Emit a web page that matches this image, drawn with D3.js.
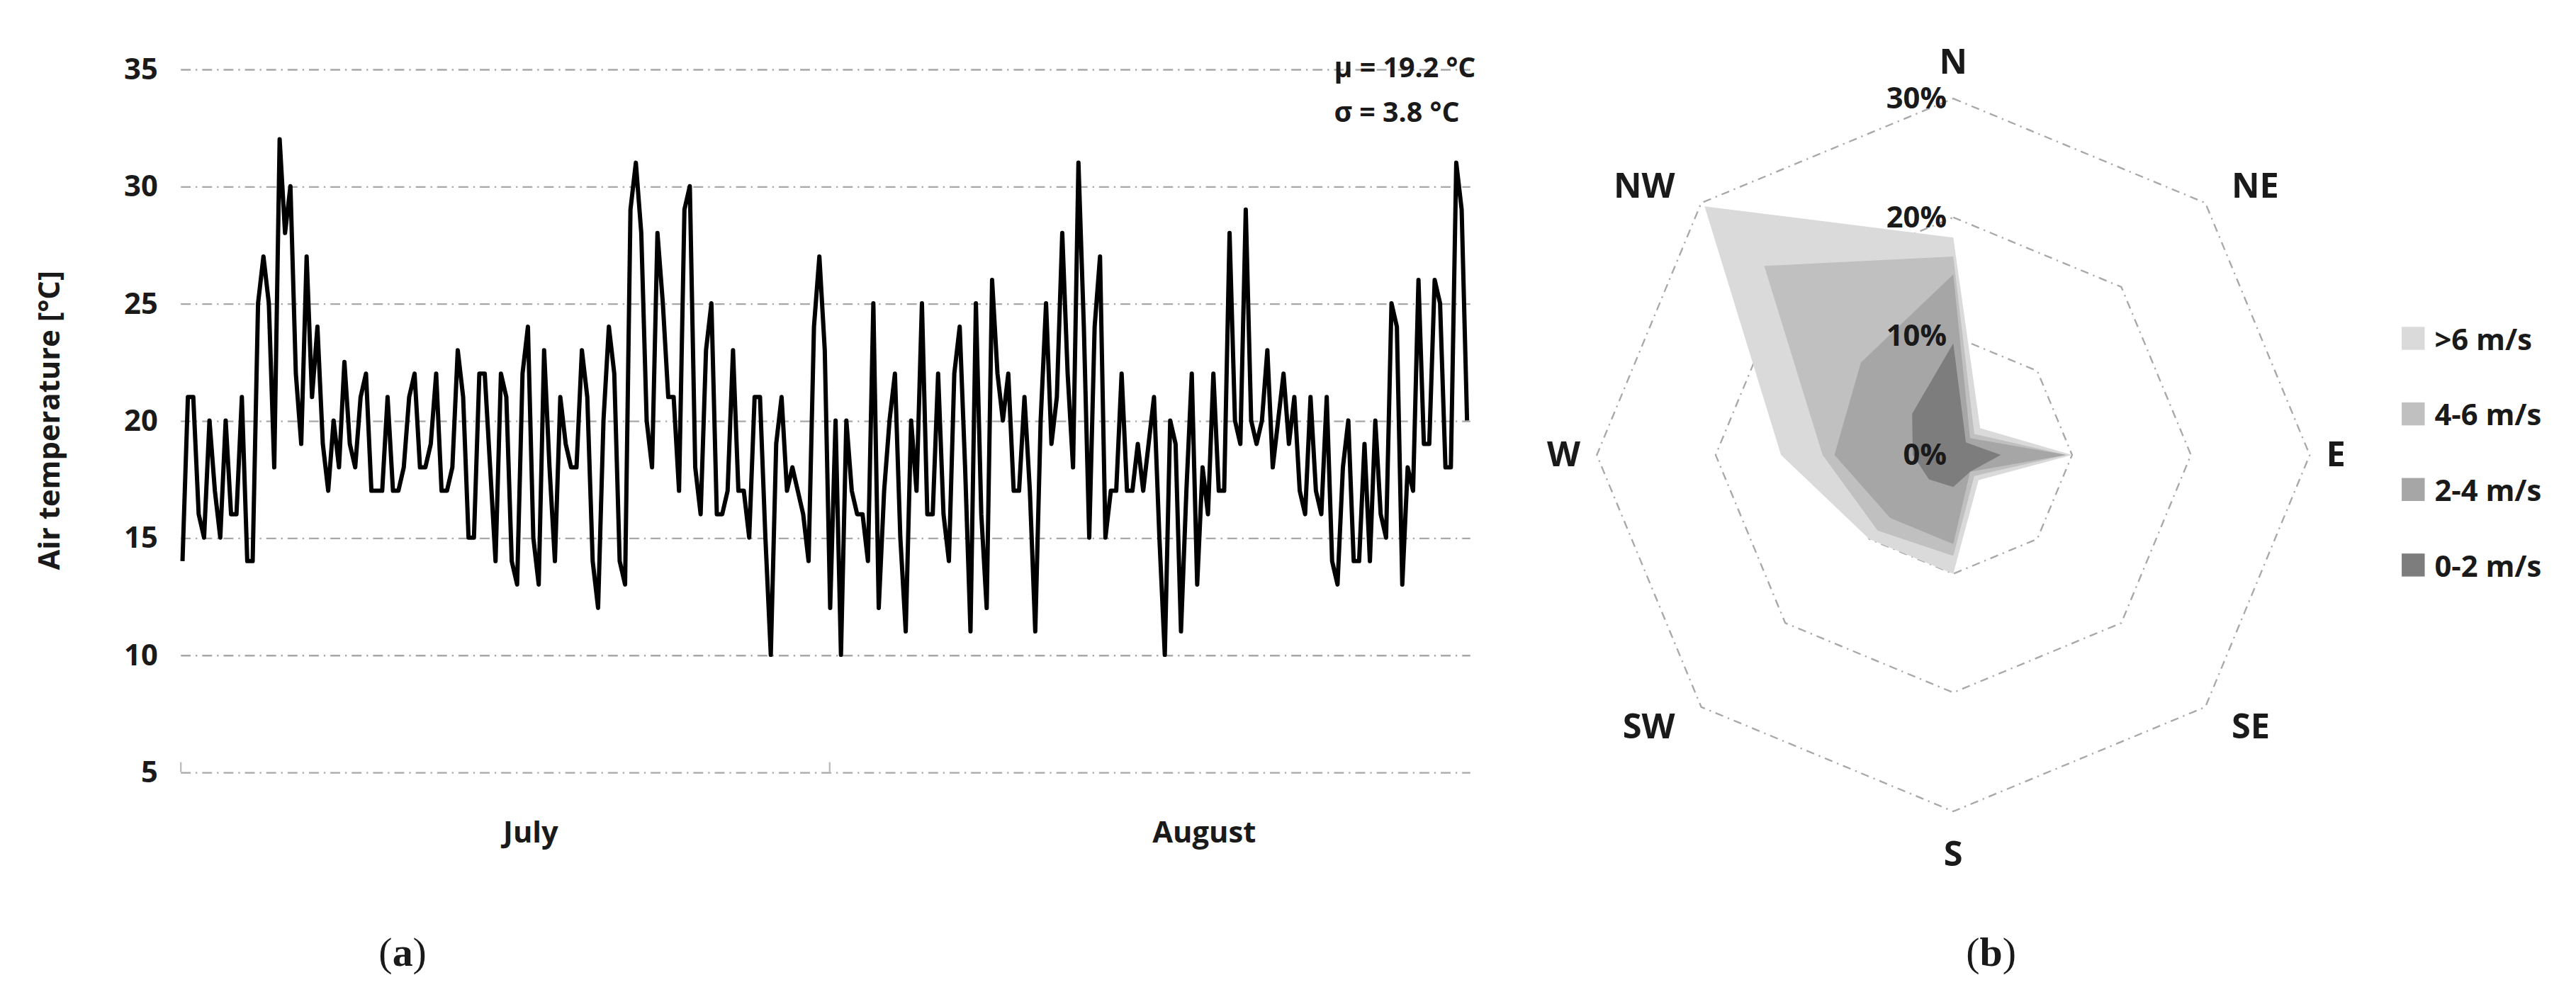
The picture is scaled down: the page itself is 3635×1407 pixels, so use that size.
<!DOCTYPE html>
<html>
<head>
<meta charset="utf-8">
<script src="https://cdn.jsdelivr.net/npm/d3@7"></script>
<style>
  body { margin: 0; background: #fff; }
  text { font-family: "Open Sans", sans-serif; font-weight: 700; fill: #1a1a1a; }
</style>
</head>
<body>
<svg id="chart" width="3635" height="1407" viewBox="0 0 1568 607"></svg>
<script>
// panel (a): air temperature, read roughly twice per day off the picture
const tempJuly = [14,21,21,16,15,20,17,15,20,16,16,21,14,14,25,27,25,18,32,28,30,22,19,27,21,24,19,17,20,18,22.5,19,18,21,22,17,17,17,21,17,17,18,21,22,18,18,19,22,17,17,18,23,21,15,15,22,22,18,14,22,21,14,13,22,24,15,13,23,18,14,21,19,18,18,23,21,14,12,20,24,22,14,13,29,31,28,20,18,28,25,21,21,17,29,30,18,16,23,25,16,16,17,23,17,17,15,21,21,15,10,19,21,17,18,17,16,14,24,27,23,12]
const tempAugust = [20,10,20,17,16,16,14,25,12,17,20,22,15,11,20,17,25,16,16,22,16,14,22,24,18,11,25,16,12,26,22,20,22,17,17,21,17,11,20,25,19,21,28,22,18,31,24,15,24,27,15,17,17,22,17,17,19,17,19,21,15,10,20,19,11,17,22,13,18,16,22,17,17,28,20,19,29,20,19,20,23,18,20,22,19,21,17,16,21,17,16,21,14,13,18,20,14,14,19,14,20,16,15,25,24,13,18,17,26,19,19,26,25,18,18,31,29,20]
const temps = tempJuly.concat(tempAugust)
const tempTicks = [5,10,15,20,25,30,35]
const months = ['July', 'August']

// panel (b): wind rose, % frequency per direction and speed class
const directions = ['N','NE','E','SE','S','SW','W','NW']
const speedClasses = ['>6 m/s','4-6 m/s','2-4 m/s','0-2 m/s']
const windOver6 = [18.3,3.2,10,3,10,10,14.5,29.6]
const wind4to6 = [16.7,2.5,9.5,2.5,8.5,9,11,22.5]
const wind2to4 = [15.2,2,9.5,2,7.5,7.5,10,11]
const wind0to2 = [9.4,1.5,4,2,2.7,2.9,3.4,4.9]
const ringTicks = [0,10,20,30]
const classColors = ['#dadada','#c0c0c0','#a6a6a6','#7d7d7d']

const svg = d3.select('#chart')
const grid = '#a8a8a8'

// ---------- (a) ----------
const x = d3.scaleLinear().domain([0, temps.length - 1]).range([111, 893])
const y = d3.scaleLinear().domain([5, 35]).range([470, 42])

const yAxis = svg.append('g')
    .attr('transform', 'translate(110,0)')
    .call(d3.axisLeft(y).tickValues(tempTicks).tickSize(-785).tickPadding(14))
yAxis.select('.domain').remove()
yAxis.selectAll('.tick line')
    .attr('stroke', grid).attr('stroke-width', 1).attr('stroke-dasharray', '6,3,1,3')
yAxis.selectAll('.tick text').attr('font-size', 18).style('font-family', '"Open Sans", sans-serif').style('font-weight', 700)

svg.append('g').selectAll('line')
    .data([110, 505])
    .join('line')
    .attr('x1', d => d).attr('x2', d => d)
    .attr('y1', 464).attr('y2', 470)
    .attr('stroke', '#bbb')

const monthX = d3.scalePoint().domain(months).range([323, 733])
svg.append('g').selectAll('text')
    .data(months)
    .join('text')
    .attr('x', d => monthX(d)).attr('y', 513)
    .attr('text-anchor', 'middle').attr('font-size', 18)
    .text(d => d)

svg.append('text')
    .attr('transform', 'translate(36,256) rotate(-90)')
    .attr('text-anchor', 'middle').attr('font-size', 18)
    .text('Air temperature [°C]')

svg.append('path')
    .datum(temps)
    .attr('fill', 'none').attr('stroke', '#000').attr('stroke-width', 2.6)
    .attr('stroke-linejoin', 'round')
    .attr('d', d3.line().x((d, i) => x(i)).y(d => y(d)))

svg.append('text').attr('x', 812).attr('y', 47).attr('font-size', 17).text('μ = 19.2 °C')
svg.append('text').attr('x', 812).attr('y', 74).attr('font-size', 17).text('σ = 3.8 °C')

svg.append('text').attr('x', 245).attr('y', 588).attr('text-anchor', 'middle')
    .style('font-family', '"Liberation Serif", serif').style('font-weight', 400).attr('font-size', 25)
    .html('(<tspan font-weight="700">a</tspan>)')

// ---------- (b) ----------
const cx = 1189, cy = 277
const r = d3.scaleLinear().domain([0, 30]).range([0, 217])
const ang = d3.scalePoint().domain(directions).range([0, 315])
const pt = (dir, v) => {
    const a = ang(dir) * Math.PI / 180
    return [cx + r(v) * Math.sin(a), cy - r(v) * Math.cos(a)]
}

const rose = svg.append('g')
rose.selectAll('polygon.ring')
    .data(ringTicks.slice(1))
    .join('polygon')
    .attr('class', 'ring')
    .attr('points', v => directions.map(d => pt(d, v).join(',')).join(' '))
    .attr('fill', 'none').attr('stroke', grid).attr('stroke-width', 1).attr('stroke-dasharray', '5,3,1,3')

const series = [windOver6, wind4to6, wind2to4, wind0to2]
rose.selectAll('polygon.area')
    .data(series)
    .join('polygon')
    .attr('class', 'area')
    .attr('points', vals => directions.map((d, i) => pt(d, vals[i]).join(',')).join(' '))
    .attr('fill', (d, i) => classColors[i])

rose.selectAll('text.ringlab')
    .data(ringTicks)
    .join('text')
    .attr('class', 'ringlab')
    .attr('x', cx - 4).attr('y', v => cy - r(v) + 6)
    .attr('text-anchor', 'end').attr('font-size', 18)
    .text(v => v + '%')

const labOffset = {N: [0, -22], NE: [16, -10], E: [10, 0], SE: [16, 12], S: [0, 26], SW: [-16, 12], W: [-10, 0], NW: [-16, -10]}
rose.selectAll('text.dir')
    .data(directions)
    .join('text')
    .attr('class', 'dir')
    .attr('x', d => pt(d, 30)[0] + labOffset[d][0])
    .attr('y', d => pt(d, 30)[1] + labOffset[d][1] + 7)
    .attr('text-anchor', d => d === 'N' || d === 'S' ? 'middle' : (d.includes('E') ? 'start' : 'end'))
    .attr('font-size', 21)
    .text(d => d)

const leg = svg.append('g').selectAll('g')
    .data(speedClasses)
    .join('g')
    .attr('transform', (d, i) => `translate(1462,${207 + i * 46})`)
leg.append('rect').attr('x', 0).attr('y', -8).attr('width', 14).attr('height', 14)
    .attr('fill', (d, i) => classColors[i])
leg.append('text').attr('x', 20).attr('y', 6).attr('font-size', 18).text(d => d)

svg.append('text').attr('x', 1212).attr('y', 588).attr('text-anchor', 'middle')
    .style('font-family', '"Liberation Serif", serif').style('font-weight', 400).attr('font-size', 25)
    .html('(<tspan font-weight="700">b</tspan>)')
</script>
</body>
</html>
